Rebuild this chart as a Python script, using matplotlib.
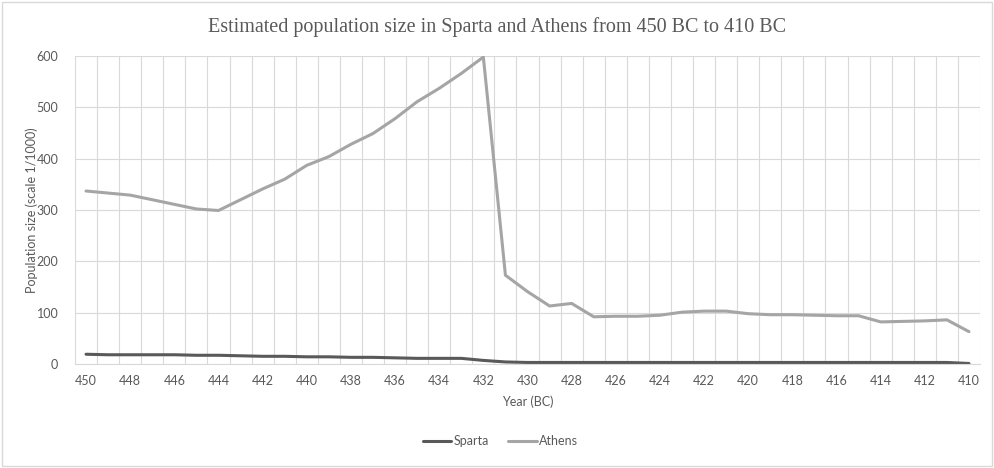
import numpy as np
import matplotlib.pyplot as plt
from matplotlib.patches import Rectangle

# Years 450 BC .. 410 BC
years = list(range(450, 409, -1))

sparta = [19, 18, 18, 18, 18, 17, 17, 16, 15, 15,
          14, 14, 13, 13, 12, 11, 11, 11, 7, 4,
          3, 3, 3, 3, 3, 3, 3, 3, 3, 3,
          3, 3, 3, 3, 3, 3, 3, 3, 3, 3,
          1]

athens = [337, 333, 329, 320, 311, 302, 299, 320, 341, 360,
          387, 404, 428, 449, 478, 511, 537, 566, 598, 173,
          141, 113, 118, 92, 93, 93, 95, 101, 103, 103,
          98, 96, 96, 95, 94, 94, 82, 83, 84, 86,
          63]

TEXT = "#595959"
GRID = "#d9d9d9"

fig = plt.figure(figsize=(9.95, 4.68), dpi=100)
ax = fig.add_axes([75 / 995, 1 - 364 / 468, (980 - 75) / 995, (364 - 56) / 468])

x = np.arange(len(years))
ax.plot(x, sparta, color="#595959", lw=2.2, label="Sparta", solid_capstyle="round")
ax.plot(x, athens, color="#a5a5a5", lw=2.2, label="Athens", solid_capstyle="round")

ax.set_xlim(-0.5, len(years) - 0.5)
ax.set_ylim(0, 600)

# category labels every 2 years, gridlines between categories
ax.set_xticks(x[::2])
ax.set_xticklabels([str(y) for y in years[::2]])
ax.set_xticks(np.arange(-0.5, len(years), 1), minor=True)
ax.set_yticks(range(0, 601, 100))

ax.grid(True, which="minor", axis="x", color=GRID, lw=0.8)
ax.grid(True, which="major", axis="y", color=GRID, lw=0.8)
ax.set_axisbelow(True)
ax.tick_params(which="both", length=0)
ax.tick_params(axis="x", pad=8)
ax.tick_params(axis="y", pad=12)
for lab in ax.get_xticklabels() + ax.get_yticklabels():
    lab.set_color(TEXT)
    lab.set_fontsize(9)
    lab.set_family("Lato")

for s in ["top", "right", "left"]:
    ax.spines[s].set_visible(False)
ax.spines["bottom"].set_color(GRID)
ax.spines["bottom"].set_linewidth(0.8)

ax.set_xlabel("Year (BC)", color=TEXT, fontsize=9, family="Lato", labelpad=6)
ax.set_ylabel("Population size (scale 1/1000)", color=TEXT, fontsize=9, family="Lato")
ax.yaxis.set_label_coords((38 - 75) / 905, 0.5)

fig.text(0.5, 1 - 27 / 468, "Estimated population size in Sparta and Athens from 450 BC to 410 BC",
         ha="center", va="center", fontsize=14.5, color=TEXT, family="Liberation Serif")

leg = fig.legend(loc="center", bbox_to_anchor=(0.503, 1 - 441 / 468), ncol=2, frameon=False,
                 prop={"family": "Lato", "size": 9}, handlelength=2.3, handletextpad=0.2,
                 columnspacing=1.5)
for t in leg.get_texts():
    t.set_color(TEXT)

# chart area border
fig.patches.append(Rectangle((2 / 995, 2 / 468), 990 / 995, 464 / 468, transform=fig.transFigure,
                             fill=False, edgecolor=GRID, lw=1))

fig.savefig("out.png", dpi=100)
